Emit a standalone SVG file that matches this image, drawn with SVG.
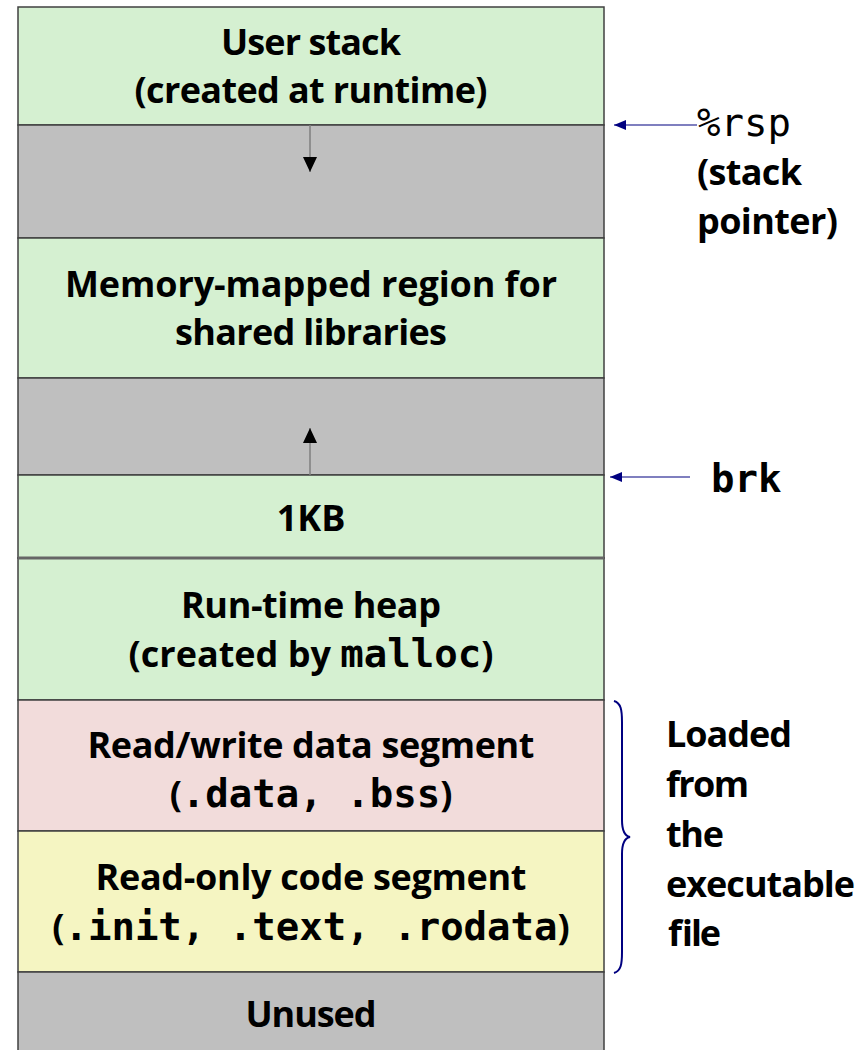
<svg xmlns="http://www.w3.org/2000/svg" width="861" height="1050" viewBox="0 0 861 1050">
  <defs>
    <style>
      .seg{stroke:#404040;stroke-width:1.5}
      .green{fill:#d5f0d1}
      .gap{fill:#bfbfbf}
      .pink{fill:#f2dcdb}
      .yellow{fill:#f5f5c2}
      .lbl{font-family:"Open Sans","Liberation Sans",sans-serif;font-weight:700;font-size:36px;fill:#000}
      .c{text-anchor:middle}
      .mono{font-family:"DejaVu Sans Mono","Liberation Mono",monospace;font-weight:700;font-size:39px}
      .thin{font-weight:400}
      .ptr{stroke:#000080;stroke-width:1.2;fill:none}
      .grow{stroke:#7f7f7f;stroke-width:1.5}
      .brace{stroke:#000080;stroke-width:2;fill:none}
    </style>
    <marker id="navyHead" viewBox="0 0 12 10" refX="12" refY="5" markerWidth="12" markerHeight="10" markerUnits="userSpaceOnUse" orient="auto">
      <path d="M0,0 L12,5 L0,10 z" fill="#000080"/>
    </marker>
    <marker id="blackHead" viewBox="0 0 15 14" refX="15" refY="7" markerWidth="15" markerHeight="14" markerUnits="userSpaceOnUse" orient="auto">
      <path d="M0,0 L15,7 L0,14 z" fill="#000"/>
    </marker>
  </defs>

  <rect width="861" height="1050" fill="#fff"/>

  <!-- address space, top to bottom -->
  <g id="user-stack">
    <rect class="seg green" x="18" y="7" width="586" height="118"/>
    <text class="lbl c" x="311" y="55" textLength="180">User stack</text>
    <text class="lbl c" x="311" y="103" textLength="353">(created at runtime)</text>
  </g>
  <g id="stack-gap">
    <rect class="seg gap" x="18" y="125" width="586" height="113"/>
  </g>
  <g id="mmap-region">
    <rect class="seg green" x="18" y="238" width="586" height="140"/>
    <text class="lbl c" x="311" y="297" textLength="492">Memory-mapped region for</text>
    <text class="lbl c" x="311" y="345" textLength="272">shared libraries</text>
  </g>
  <g id="heap-gap">
    <rect class="seg gap" x="18" y="378" width="586" height="97"/>
  </g>
  <g id="heap-1kb">
    <rect class="seg green" x="18" y="475" width="586" height="83"/>
    <text class="lbl c" x="311" y="531">1KB</text>
  </g>
  <g id="runtime-heap">
    <rect class="seg green" x="18" y="558" width="586" height="142"/>
    <line x1="18" y1="558" x2="604" y2="558" stroke="#666" stroke-width="3"/>
    <text class="lbl c" x="311" y="618" textLength="260">Run-time heap</text>
    <text class="lbl c" x="311" y="667">(created by <tspan class="mono">malloc</tspan>)</text>
  </g>
  <g id="data-segment">
    <rect class="seg pink" x="18" y="700" width="586" height="131"/>
    <text class="lbl c" x="311" y="758" textLength="447">Read/write data segment</text>
    <text class="lbl c" x="311" y="807">(<tspan class="mono">.data, .bss</tspan>)</text>
  </g>
  <g id="code-segment">
    <rect class="seg yellow" x="18" y="831" width="586" height="141"/>
    <text class="lbl c" x="311" y="890" textLength="431">Read-only code segment</text>
    <text class="lbl c" x="311" y="940">(<tspan class="mono">.init, .text, .rodata</tspan>)</text>
  </g>
  <g id="unused">
    <rect class="seg gap" x="18" y="972" width="586" height="80"/>
    <text class="lbl c" x="311" y="1027" textLength="131">Unused</text>
  </g>

  <!-- side labels -->
  <g id="rsp-label">
    <text class="lbl mono thin" x="697" y="136">%rsp</text>
    <text class="lbl" x="697" y="185" textLength="105">(stack</text>
    <text class="lbl" x="697" y="234" textLength="141">pointer)</text>
  </g>
  <g id="brk-label">
    <text class="lbl mono" x="711" y="492">brk</text>
  </g>
  <g id="loaded-label">
    <text class="lbl" x="666" y="747" textLength="126">Loaded</text>
    <text class="lbl" x="666" y="797" textLength="83">from</text>
    <text class="lbl" x="666" y="847" textLength="58">the</text>
    <text class="lbl" x="666" y="897" textLength="189">executable</text>
    <text class="lbl" x="666" y="946" textLength="53">file</text>
  </g>

  <!-- connectors -->
  <g id="connectors">
    <line class="grow" x1="310" y1="125" x2="310" y2="172" marker-end="url(#blackHead)"/>
    <line class="grow" x1="310" y1="475" x2="310" y2="428" marker-end="url(#blackHead)"/>
    <line class="ptr" x1="697" y1="125" x2="614" y2="125" marker-end="url(#navyHead)"/>
    <line class="ptr" x1="690" y1="477" x2="610" y2="477" marker-end="url(#navyHead)"/>
    <path class="brace" d="M614,701 C621,703 622,710 622,722 L622,820 C622,830 625,836 630,837 C625,838 622,844 622,854 L622,952 C622,964 621,971 614,973"/>
  </g>
</svg>
